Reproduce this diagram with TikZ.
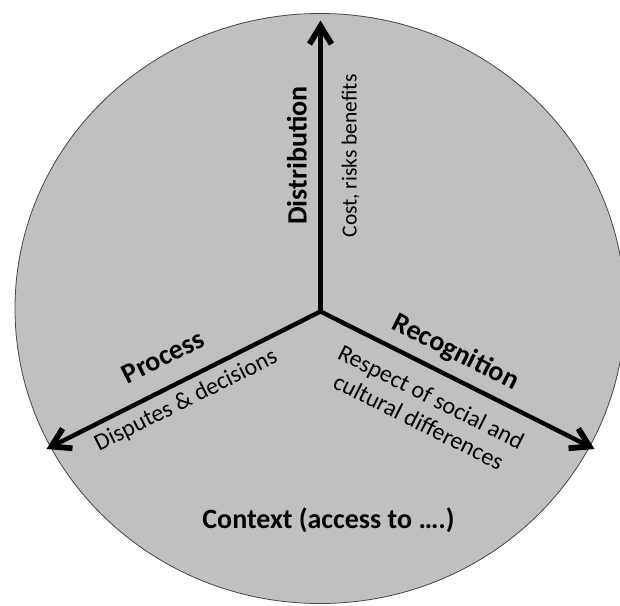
\documentclass[tikz,border=0pt]{standalone}
\usepackage{fontspec}
\setmainfont{Carlito}
\usetikzlibrary{arrows.meta}
\definecolor{discfill}{RGB}{192,192,192}
\definecolor{discedge}{RGB}{70,70,70}
\begin{document}
\begin{tikzpicture}[x=1pt,y=-1pt,
  axis/.style={line width=4.4pt,-{Straight Barb[length=18pt,width=22pt,line width=5.8pt]}},
  mainlbl/.style={inner sep=0pt,font=\fontsize{28}{33}\selectfont\bfseries},
  sublbl/.style={inner sep=0pt,font=\fontsize{24}{28}\selectfont},
]
\useasboundingbox[fill=white] (0,0) rectangle (620,605);
\draw[fill=discfill,draw=discedge,line width=0.8pt] (320,308.5) ellipse [x radius=305, y radius=295];
\coordinate (o) at (320.5,311.5);
\coordinate (tD) at (320.5,20.5);
\coordinate (tP) at (46.5,449);
\coordinate (tR) at (594.5,449);
\draw[axis] (o) -- (tD);
\draw[axis] (o) -- (tP);
\draw[axis] (o) -- (tR);
\node[mainlbl,rotate=90,anchor=base] (dist) at (306.5,155.5) {Distribution};
\node[sublbl,font=\fontsize{21.5}{25}\selectfont,rotate=90,anchor=base] (cost) at (356.5,156) {Cost, risks benefits};
\node[mainlbl,rotate=26.65,anchor=base] (proc) at (167,365) {Process};
\node[sublbl,rotate=26.65,anchor=base] (disp) at (189,406.5) {Disputes \& decisions};
\node[mainlbl,rotate=-26.65,anchor=base] (rec) at (452,359) {Recognition};
\node[sublbl,rotate=-26.65,align=center] (resp) at (425,409) {Respect of social and\\cultural differences};
\node[mainlbl,anchor=base] (ctx) at (328.5,528) {Context (access to ….)};
\end{tikzpicture}
\end{document}
